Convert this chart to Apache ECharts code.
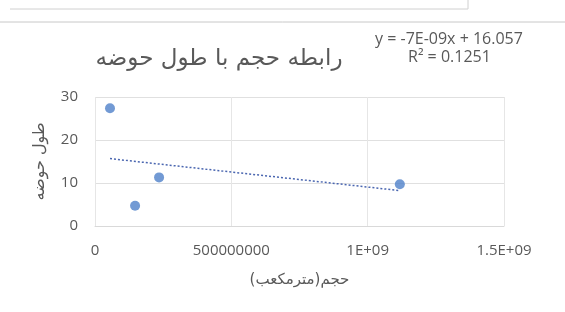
<!DOCTYPE html>
<html>
<head>
<meta charset="utf-8">
<script src="https://cdn.jsdelivr.net/npm/echarts@6/dist/echarts.min.js"></script>
<style>
  html, body { margin: 0; padding: 0; background: #fff; }
  #chart { width: 565px; height: 312px; }
</style>
</head>
<body>
<div id="chart"></div>
<script>
// data
const volumes = [55e6, 147e6, 235e6, 1118e6]
const lengths = [27.4, 4.7, 11.3, 9.7]
const trendX = [55e6, 1118e6]
const trendY = [15.67, 8.23]
const xTicks = ['0', '500000000', '1E+09', '1.5E+09']

const textColor = '#595959'
const latin = '"Open Sans", "Liberation Sans", sans-serif'
const persian = '"DejaVu Sans", sans-serif'

const chart = echarts.init(document.getElementById('chart'))

chart.setOption({
  animation: false,
  grid: { left: 95, right: 61, top: 97, bottom: 86 },
  title: {
    text: 'رابطه حجم با طول حوضه',
    left: 214,
    top: 43,
    textAlign: 'center',
    textStyle: { fontFamily: persian, fontSize: 23, fontWeight: 'normal', color: textColor }
  },
  graphic: [
    { type: 'line', shape: { x1: 10, y1: 9, x2: 468, y2: 9 }, style: { stroke: '#d0d0d0', lineWidth: 1 } },
    { type: 'line', shape: { x1: 468, y1: 0, x2: 468, y2: 9 }, style: { stroke: '#d0d0d0', lineWidth: 1 } },
    { type: 'line', shape: { x1: 0, y1: 22, x2: 565, y2: 22 }, style: { stroke: '#c8c8c8', lineWidth: 1 } },
    {
      type: 'text', left: 375, top: 31,
      style: { text: 'y = -7E-09x + 16.057', font: '16px ' + latin, fill: textColor }
    },
    {
      type: 'text', left: 408, top: 49,
      style: { text: 'R² = 0.1251', font: '16px ' + latin, fill: textColor }
    }
  ],
  xAxis: {
    type: 'value',
    min: 0,
    max: 1.5e9,
    interval: 5e8,
    name: 'حجم(مترمکعب)',
    nameLocation: 'middle',
    nameGap: 47,
    nameTextStyle: { fontFamily: persian, fontSize: 15, color: textColor },
    axisLine: { show: true, lineStyle: { color: '#d9d9d9' } },
    axisTick: { show: false },
    axisLabel: {
      margin: 17,
      fontFamily: latin,
      fontSize: 15,
      color: textColor,
      formatter: (v, i) => xTicks[i]
    },
    splitLine: { show: true, lineStyle: { color: '#e6e6e6' } }
  },
  yAxis: {
    type: 'value',
    min: 0,
    max: 30,
    interval: 10,
    name: 'طول حوضه',
    nameLocation: 'middle',
    nameGap: 47,
    nameRotate: 90,
    nameTextStyle: { fontFamily: persian, fontSize: 16, color: textColor },
    axisLine: { show: false },
    axisTick: { show: false },
    axisLabel: { margin: 17, fontFamily: latin, fontSize: 15, color: textColor },
    splitLine: { lineStyle: { color: '#e0e0e0' } }
  },
  series: [
    {
      type: 'scatter',
      data: volumes.map((v, i) => [v, lengths[i]]),
      symbolSize: 10,
      itemStyle: { color: '#4f81c9' },
      z: 3
    },
    {
      type: 'line',
      data: trendX.map((v, i) => [v, trendY[i]]),
      symbol: 'none',
      lineStyle: { color: '#4a66b0', width: 1.5, type: [2, 2] },
      z: 2
    }
  ]
})
</script>
</body>
</html>
